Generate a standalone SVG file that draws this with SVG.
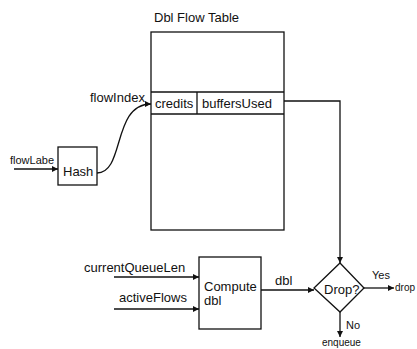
<svg xmlns="http://www.w3.org/2000/svg" width="417" height="349" viewBox="0 0 417 349">
<defs>
<marker id="arr" viewBox="0 0 10 10" refX="10" refY="5" markerWidth="7" markerHeight="6" markerUnits="userSpaceOnUse" orient="auto">
<path d="M0,0 L10,5 L0,10 z" fill="#111"/>
</marker>
</defs>
<style>
text{font-family:"Liberation Sans",Arial,sans-serif;fill:#111}
.t{font-size:13px}
.s{font-size:11px}
.xs{font-size:10px}
.box{fill:none;stroke:#111;stroke-width:1.3}
.c{fill:none;stroke:#111;stroke-width:1.3;marker-end:url(#arr)}
</style>
<rect width="417" height="349" fill="#fff"/>
<g id="table">
<text class="t" x="154" y="22">Dbl Flow Table</text>
<rect class="box" x="151" y="32" width="133" height="198"/>
<line class="box" x1="151" y1="92" x2="284" y2="92"/>
<line class="box" x1="151" y1="114" x2="284" y2="114"/>
<line class="box" x1="197" y1="92" x2="197" y2="114"/>
<text class="t" x="155" y="108">credits</text>
<text class="t" x="202" y="108">buffersUsed</text>
</g>
<g id="hash">
<rect class="box" x="58" y="147" width="39" height="38"/>
<text class="t" x="63" y="176">Hash</text>
</g>
<g id="compute">
<rect class="box" x="199" y="257" width="62" height="72"/>
<text class="t" x="204" y="291">Compute</text>
<text class="t" x="204" y="305">dbl</text>
</g>
<g id="drop">
<polygon class="box" points="340,263 364,288 340,312 314,288"/>
<text class="t" x="324" y="294">Drop?</text>
</g>
<g id="connectors">
<path class="c" d="M14,169 L58,169"/>
<text class="s" x="10" y="164">flowLabe</text>
<path class="c" d="M97,173 C125,173 112,104 151,104"/>
<text class="t" x="90" y="102">flowIndex</text>
<path class="c" d="M284,101 L340,101 L340,263"/>
<path class="c" d="M114,277 L199,277"/>
<text class="t" x="84" y="272">currentQueueLen</text>
<path class="c" d="M114,309 L199,309"/>
<text class="t" x="119" y="302">activeFlows</text>
<path class="c" d="M261,290 L314,290"/>
<text class="t" x="275" y="285">dbl</text>
<path class="c" d="M364,288 L394,288"/>
<text class="s" x="372" y="279">Yes</text>
<text class="xs" x="395" y="291">drop</text>
<path class="c" d="M340,312 L340,337"/>
<text class="s" x="346" y="329">No</text>
<text class="xs" x="322" y="346">enqueue</text>
</g>
</svg>
